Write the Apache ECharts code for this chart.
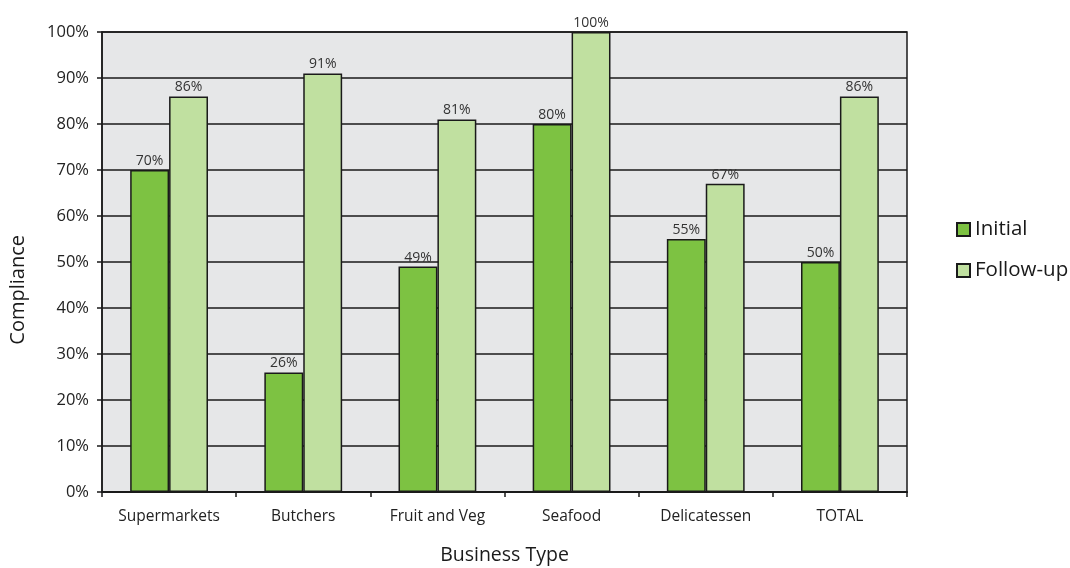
<!DOCTYPE html>
<html>
<head>
<meta charset="utf-8">
<script src="https://cdn.jsdelivr.net/npm/echarts@6/dist/echarts.min.js"></script>
<style>
  html, body { margin: 0; padding: 0; background: #ffffff; }
  #chart { width: 1070px; height: 568px; }
</style>
</head>
<body>
<div id="chart"></div>
<script>
// Compliance by business type, initial inspection vs follow-up
const categories = ['Supermarkets', 'Butchers', 'Fruit and Veg', 'Seafood', 'Delicatessen', 'TOTAL'];
const initialValues = [70, 26, 49, 80, 55, 50];
const followUpValues = [86, 91, 81, 100, 67, 86];
const yTicks = [0, 10, 20, 30, 40, 50, 60, 70, 80, 90, 100];

const FONT = '"Open Sans", "Noto Sans", sans-serif';

const chart = echarts.init(document.getElementById('chart'), null, { renderer: 'canvas' });

const barLabel = {
  show: true,
  position: 'top',
  distance: 2,
  formatter: p => p.value + '%',
  fontFamily: FONT,
  fontSize: 14,
  color: '#333333'
};

chart.setOption({
  animation: false,
  textStyle: { fontFamily: FONT },
  grid: {
    left: 102,
    right: 163,
    top: 32,
    bottom: 76,
    outerBoundsMode: 'none',
    containLabel: false,
    show: true,
    backgroundColor: '#e6e7e8',
    borderColor: '#1a1a1a',
    borderWidth: 1.5
  },
  legend: {
    orient: 'vertical',
    left: 956,
    top: 219,
    padding: 0,
    itemWidth: 13,
    itemHeight: 13,
    itemGap: 20,
    icon: 'rect',
    textStyle: { fontFamily: FONT, fontSize: 20.5, color: '#1a1a1a' },
    data: ['Initial', 'Follow-up']
  },
  // y-axis title sits a little below the plot's vertical centre
  graphic: [{
    type: 'text',
    left: 8,
    top: 235,
    rotation: Math.PI / 2,
    style: {
      text: 'Compliance',
      fontFamily: FONT,
      fontSize: 20,
      fill: '#1a1a1a'
    }
  }],
  xAxis: {
    type: 'category',
    data: categories,
    name: 'Business Type',
    nameLocation: 'middle',
    nameGap: 53,
    nameTextStyle: { fontFamily: FONT, fontSize: 19.5, color: '#1a1a1a' },
    axisLine: { lineStyle: { color: '#1a1a1a', width: 2 } },
    axisTick: { show: true, interval: 0, length: 5, lineStyle: { color: '#1a1a1a', width: 1.5 } },
    axisLabel: { interval: 0, fontFamily: FONT, fontSize: 15.5, color: '#222222', margin: 17 },
    splitLine: { show: false }
  },
  yAxis: {
    type: 'value',
    min: yTicks[0],
    max: yTicks[yTicks.length - 1],
    interval: 10,
    axisLine: { show: true, lineStyle: { color: '#1a1a1a', width: 1.5 } },
    axisTick: { show: true, length: 5, lineStyle: { color: '#1a1a1a', width: 1.5 } },
    axisLabel: { fontFamily: FONT, fontSize: 16.5, color: '#222222', margin: 13, formatter: '{value}%' },
    splitLine: { show: true, lineStyle: { color: '#1a1a1a', width: 1.5 } }
  },
  series: [
    {
      name: 'Initial',
      type: 'bar',
      data: initialValues,
      barGap: '0%',
      barCategoryGap: '42%',
      itemStyle: { color: '#7dc242', borderColor: '#1a1a1a', borderWidth: 1.5 },
      label: barLabel
    },
    {
      name: 'Follow-up',
      type: 'bar',
      data: followUpValues,
      itemStyle: { color: '#c0e0a0', borderColor: '#1a1a1a', borderWidth: 1.5 },
      label: barLabel
    }
  ]
});
</script>
</body>
</html>
